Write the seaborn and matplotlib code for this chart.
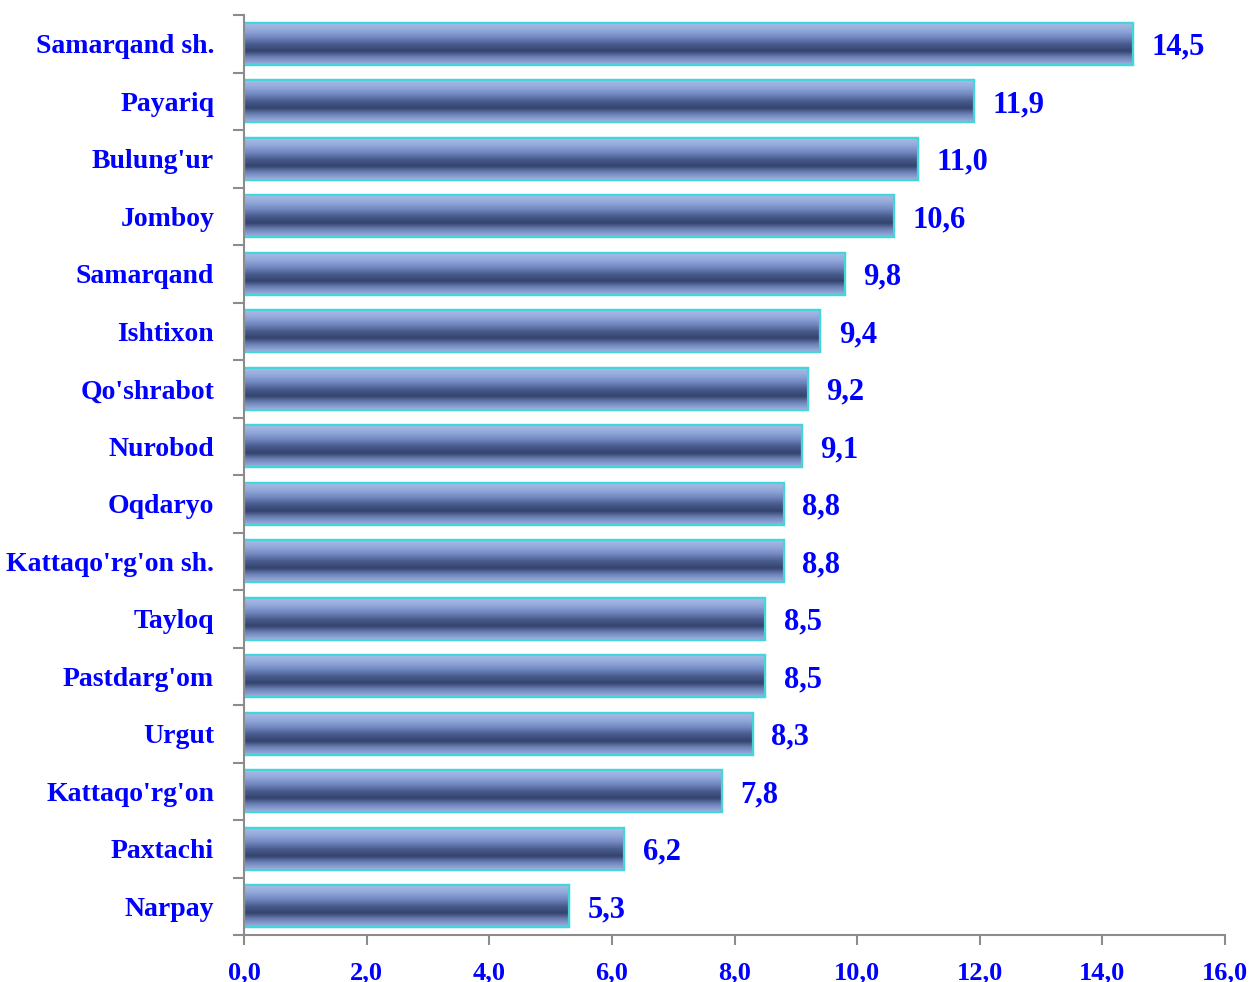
import numpy as np
import pandas as pd
import seaborn as sns
import matplotlib.pyplot as plt
from matplotlib.colors import LinearSegmentedColormap
from matplotlib.ticker import FixedLocator, FuncFormatter

districts = ["Samarqand sh.", "Payariq", "Bulung'ur", "Jomboy", "Samarqand",
             "Ishtixon", "Qo'shrabot", "Nurobod", "Oqdaryo", "Kattaqo'rg'on sh.",
             "Tayloq", "Pastdarg'om", "Urgut", "Kattaqo'rg'on", "Paxtachi", "Narpay"]
values = [14.5, 11.9, 11.0, 10.6, 9.8, 9.4, 9.2, 9.1, 8.8, 8.8,
          8.5, 8.5, 8.3, 7.8, 6.2, 5.3]
x_ticks = [0, 2, 4, 6, 8, 10, 12, 14, 16]

df = pd.DataFrame({'district': districts, 'value': values})

sns.set_style('white')
plt.rcParams['font.family'] = ['Liberation Serif', 'DejaVu Serif']
plt.rcParams['font.weight'] = 'bold'

blue = '#0000ff'
axis_grey = '#8c8c8c'

fig = plt.figure(figsize=(12.55, 9.82), dpi=100)
ax = fig.add_axes([244 / 1255, 1 - 935 / 982, (1225 - 244) / 1255, (935 - 15) / 982])

sns.barplot(data=df, x='value', y='district', orient='h', width=0.73,
            color='#7488c0', edgecolor='#46d4dc', linewidth=1.6, ax=ax)

# bar shading: vertical gradient clipped to each bar
shade = LinearSegmentedColormap.from_list(
    'bar', ['#a9bce6', '#93a8d9', '#7288c0', '#4a5c8e', '#34446e', '#6f85bb', '#9fb3df'])
grad = np.linspace(0, 1, 64).reshape(-1, 1)
for patch in ax.patches:
    bx, by = patch.get_x(), patch.get_y()
    bw, bh = patch.get_width(), patch.get_height()
    im = ax.imshow(grad, cmap=shade, aspect='auto', interpolation='bilinear',
                   extent=(bx, bx + bw, by + bh, by), zorder=patch.get_zorder() + 0.1)
    im.set_clip_path(patch)
    ax.add_patch(plt.Rectangle((bx, by), bw, bh, fill=False,
                               edgecolor='#46d4dc', linewidth=1.6,
                               zorder=patch.get_zorder() + 0.2))

for i, v in enumerate(values):
    ax.text(v + 0.3, i, f'{v:.1f}'.replace('.', ','), color=blue,
            fontsize=22, fontweight='bold', va='center_baseline', ha='left')

ax.set_xlim(0, 16)
ax.set_ylim(len(values) - 0.5, -0.5)
ax.set_xticks(x_ticks)
ax.xaxis.set_major_formatter(FuncFormatter(lambda x, p: f'{x:.1f}'.replace('.', ',')))
ax.tick_params(axis='x', bottom=True, colors=axis_grey, length=7, width=1.5,
               labelcolor=blue, labelsize=19, pad=12)
for lab in ax.get_xticklabels():
    lab.set_fontweight('bold')

ax.tick_params(axis='y', which='major', left=False, labelcolor=blue, labelsize=20, pad=18)
ax.yaxis.set_minor_locator(FixedLocator(np.arange(-0.5, len(values), 1.0)))
ax.tick_params(axis='y', which='minor', left=True, length=8, width=1.5, color=axis_grey)
for lab in ax.get_yticklabels():
    lab.set_fontweight('bold')

ax.set_xlabel('')
ax.set_ylabel('')
for side in ['top', 'right']:
    ax.spines[side].set_visible(False)
for side in ['left', 'bottom']:
    ax.spines[side].set_color(axis_grey)
    ax.spines[side].set_linewidth(1.5)

fig.savefig('out.png', dpi=100)
